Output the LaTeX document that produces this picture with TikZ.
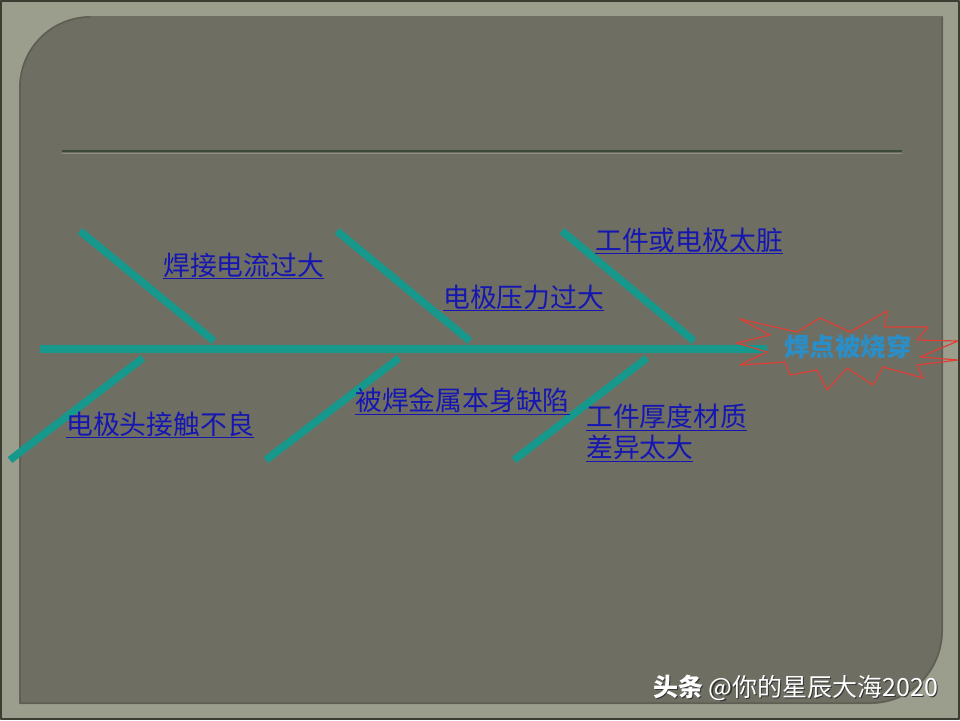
\documentclass[tikz,border=0pt]{standalone}
\usepackage{fontspec}
\newfontfamily\cjk{Noto Sans CJK SC}
\definecolor{framecol}{RGB}{155,157,141}
\definecolor{edgecol}{RGB}{58,61,48}
\definecolor{panelcol}{RGB}{110,111,98}
\definecolor{rulecol}{RGB}{60,72,58}
\definecolor{bonecol}{RGB}{22,152,140}
\definecolor{causecol}{RGB}{22,22,178}
\definecolor{burstcol}{RGB}{222,62,52}
\definecolor{effectcol}{RGB}{42,142,200}
\tikzset{
  bone/.style={draw=bonecol, line width=7.5pt},
  cause/.style={font=\cjk\fontsize{26.8}{31}\selectfont, text=causecol, inner sep=0pt, anchor=base west},
}
\begin{document}
\begin{tikzpicture}[line join=round, x=1pt, y=-1pt]
\useasboundingbox (0,0) rectangle (960,720);
% frame and panel
\fill[framecol] (0,0) rectangle (960,720);
\draw[edgecol, line width=2pt] (1,1) rectangle (959,719);
\fill[panelcol] (19,704) -- (19,88) .. controls (19,48) and (51,16) .. (91,16) -- (943,16)
  -- (943,630) .. controls (943,671) and (911,704) .. (870,704) -- cycle;
\draw[panelcol!85!black, line width=1.5pt] (20,703) -- (20,88) .. controls (20,49) and (51,17) .. (91,17);
\draw[panelcol!85!black, line width=1.5pt] (942,17) -- (942,630) .. controls (942,670) and (911,703) .. (870,703) -- (20,703);
\draw[rulecol, line width=2pt] (62,151) -- (902,151);
\draw[framecol!70!panelcol, line width=0.8pt] (62,153) -- (902,153);
% spine and bones
\coordinate (tail) at (40,349);
\coordinate (head) at (767,349);
\draw[bone] (tail) -- (head);
\foreach \xa/\ya/\xb/\yb in {80/231/214/341, 337/231/470/341, 562/231/694/341,
  143/358/10/460, 399/358/266/460, 647/358/514/460}
  \draw[bone] (\xa,\ya) -- (\xb,\yb);
% effect
\draw[burstcol, line width=1.2pt] (740,319) -- (797,332) -- (820,318) -- (850,332) -- (887,311)
  -- (885,327) -- (928,327) -- (917,340) -- (958,341) -- (920,357) -- (958,360) -- (917,365)
  -- (923,378) -- (883,367) -- (873,385) -- (847,368) -- (827,390) -- (817,370) -- (790,375)
  -- (785,362) -- (740,365) -- (767,352) -- (737,343) -- (770,335) -- cycle;
\node[font=\cjk\bfseries\fontsize{25.5}{30}\selectfont, text=effectcol, inner sep=0pt] (effect) at (848,347) {焊点被烧穿};
% causes
\node[cause] (current) at (163,275) {\underline{焊接电流过大}};
\node[cause] (pressure) at (443,307) {\underline{电极压力过大}};
\node[cause] (dirt) at (595,250) {\underline{工件或电极太脏}};
\node[cause] (contact) at (66,434) {\underline{电极头接触不良}};
\node[cause] (metal) at (355,410) {\underline{被焊金属本身缺陷}};
\node[cause, anchor=north west, align=left] (thick) at (586,404) {\underline{工件厚度材质}\\\underline{差异太大}};
% watermark
\node[font=\cjk\fontsize{25}{30}\selectfont, text=black!80, inner sep=0pt, anchor=base west] at (654.5,697.5) {\textbf{头条} @你的星辰大海2020};
\node[font=\cjk\fontsize{25}{30}\selectfont, text=white, inner sep=0pt, anchor=base west] (mark) at (653,696) {\textbf{头条} @你的星辰大海2020};
\end{tikzpicture}
\end{document}
